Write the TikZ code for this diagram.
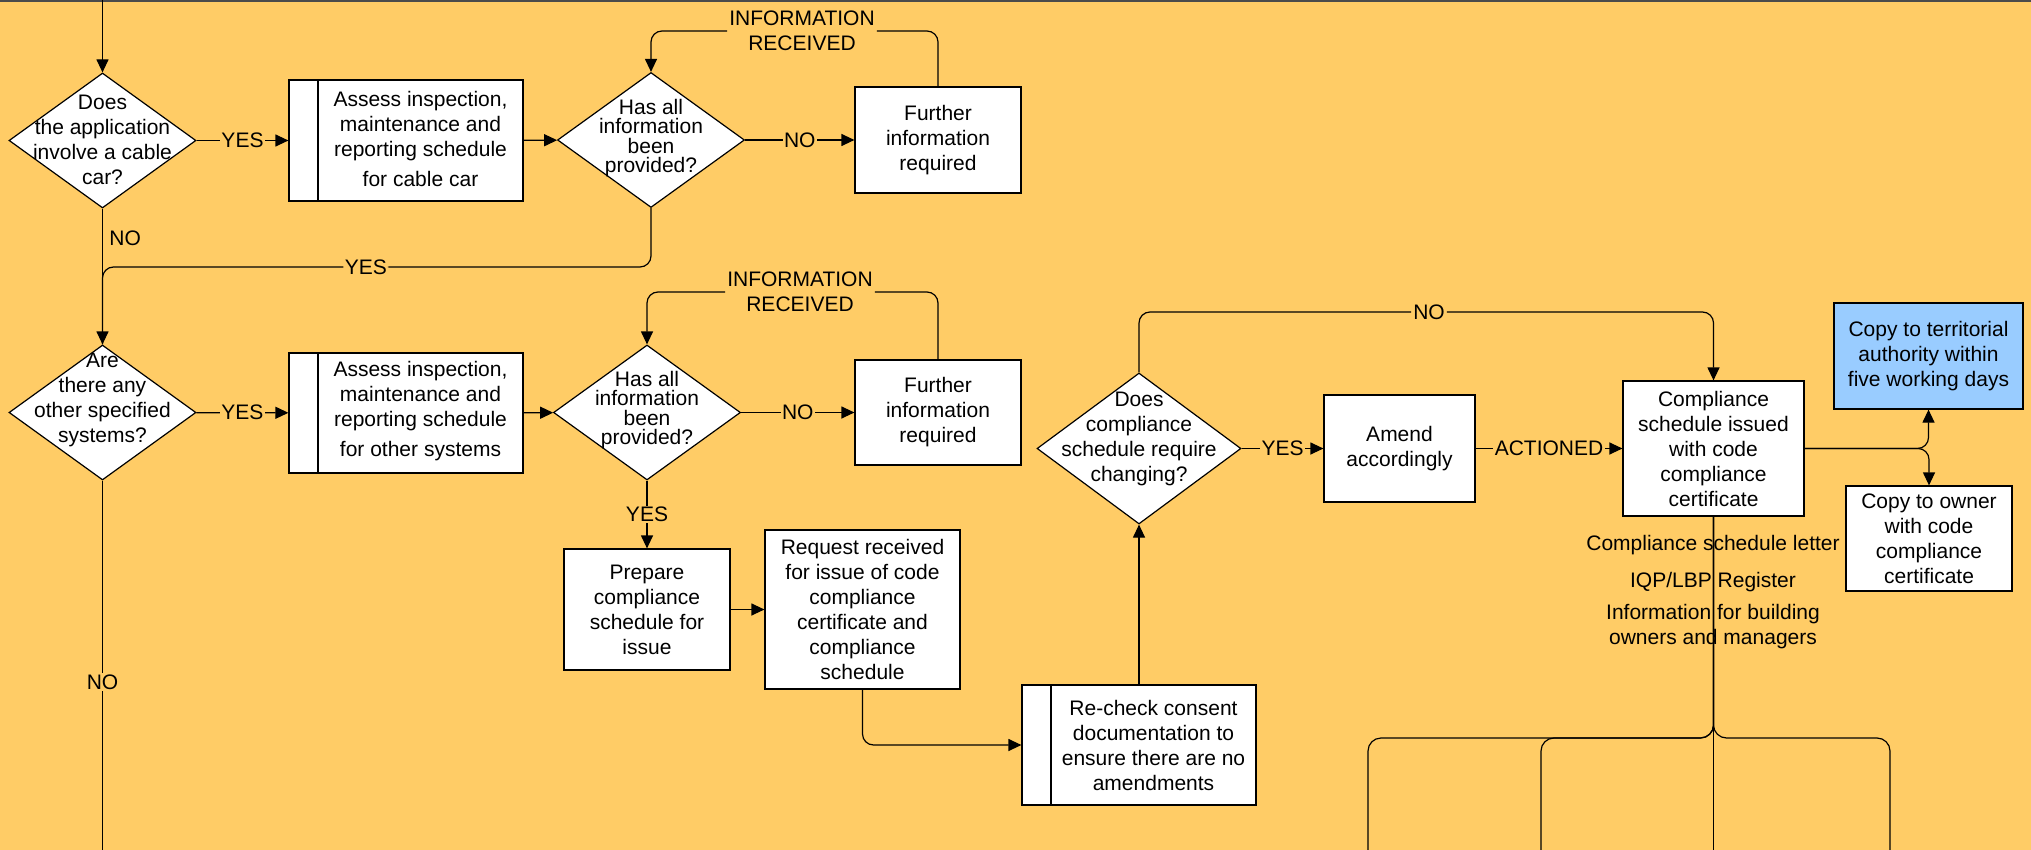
\documentclass[tikz,border=0pt]{standalone}
\usepackage{fontspec}
\setmainfont{Liberation Sans}
\usepackage{tikz}
\usetikzlibrary{shapes.geometric,arrows.meta,positioning}
\definecolor{bgorange}{RGB}{255,204,102}
\definecolor{copyblue}{RGB}{153,204,255}
\definecolor{rimgray}{RGB}{75,75,75}

\begin{document}
\begin{tikzpicture}[x=1pt,y=-1pt,line width=1.2pt,
    every node/.style={font=\fontsize{21}{25}\selectfont, align=center},
    proc/.style={draw, fill=white, inner sep=0pt},
    subproc/.style={proc, path picture={\draw ([xshift=29pt]path picture bounding box.north west) -- ([xshift=29pt]path picture bounding box.south west);}},
    dec/.style={diamond, draw, fill=white, inner sep=0pt, minimum width=187pt, minimum height=135pt},
    tight/.style={font=\fontsize{21}{19.5}\selectfont},
    lbl/.style={fill=bgorange, inner sep=1.5pt},
    arr/.style={-{Triangle[length=13pt,width=12pt]}},
    rc/.style={rounded corners=11pt}]
            \useasboundingbox (0,0) rectangle (2031,850);
            \fill[bgorange] (0,0) rectangle (2031,850);
            \draw[rimgray, line width=2.5pt] (0,1.25) -- (2031,1.25);

            \coordinate (start) at (102.5,0);
            \coordinate (hy) at (0,267);
            \coordinate (hb) at (0,738);
            \coordinate (e1) at (102.5,850);
            \coordinate (o1) at (1368,850);
            \coordinate (o2) at (1541,850);
            \coordinate (o3) at (1713.5,850);
            \coordinate (o4) at (1890,850);

            \node[dec] (d1) at (102.5,140.5) {};
            \node at (102.5,140) {Does\\the application\\involve a cable\\car?};
            \node[subproc, minimum width=234pt, minimum height=121pt] (b1) at (406,140.5) {};
            \node at (420.5,139) {Assess inspection,\\maintenance and\\reporting schedule\\[5pt]for cable car};
            \node[dec] (d2) at (651,140) {};
            \node[tight] at (651,138) {Has all\\information\\been\\provided?};
            \node[proc, minimum width=166pt, minimum height=106pt] (f1) at (938,140) {Further\\information\\required};
            \node[lbl] (ir1) at (802,31) {INFORMATION\\RECEIVED};

            \node[dec] (d3) at (102.5,412.5) {};
            \node at (102.5,400) {Are\\there any\\other specified\\systems?};
            \node[subproc, minimum width=234pt, minimum height=120pt] (b2) at (406,413) {};
            \node at (420.5,411) {Assess inspection,\\maintenance and\\reporting schedule\\[5pt]for other systems};
            \node[dec] (d4) at (647,412.5) {};
            \node[tight] at (647,410) {Has all\\information\\been\\provided?};
            \node[proc, minimum width=166pt, minimum height=105pt] (f2) at (938,412.5) {Further\\information\\required};
            \node[lbl] (ir2) at (800,292) {INFORMATION\\RECEIVED};

            \node[proc, minimum width=166pt, minimum height=121pt] (prep) at (647,609.5) {Prepare\\compliance\\schedule for\\issue};
            \node[proc, minimum width=195pt, minimum height=159pt] (req) at (862.5,609.5) {Request received\\for issue of code\\compliance\\certificate and\\compliance\\schedule};
            \node[subproc, minimum width=234pt, minimum height=120pt] (rechk) at (1139,745) {};
            \node at (1153.5,745) {Re-check consent\\documentation to\\ensure there are no\\amendments};

            \node[dec, minimum width=204pt, minimum height=151pt] (d5) at (1139,448.5) {};
            \node at (1139,439) {Does\\compliance\\schedule require\\changing?};
            \node[proc, minimum width=151pt, minimum height=107pt] (amend) at (1399.5,448.5) {Amend\\accordingly};
            \node[proc, minimum width=181pt, minimum height=135pt] (comp) at (1713.5,448.5) {Compliance\\schedule issued\\with code\\compliance\\certificate};
            \node[proc, fill=copyblue, minimum width=189pt, minimum height=106pt] (terr) at (1928.5,356) {Copy to territorial\\authority within\\five working days};
            \node[proc, minimum width=166pt, minimum height=105pt] (owner) at (1929,538.5) {Copy to owner\\with code\\compliance\\certificate};
            \node[lbl] (no5) at (1429,312) {NO};

            \draw[arr] (start) -- (d1.north);
            \draw[arr] (d1) -- node[lbl] {YES} (b1);
            \draw[arr] (b1) -- (d2);
            \draw[arr] (d2) -- node[lbl] {NO} (f1);
            \draw[rc] (f1.north) |- (ir1.east);
            \draw[arr, rc] (ir1.west) -| (d2.north);
            \draw[arr] (d1.south) -- node[pos=0.22, right=3pt] {NO} (d3.north);
            \draw[rc] (d2.south) |- node[lbl, pos=0.76] {YES} (d1.south |- hy) -- (d3.north);

            \draw[arr] (d3) -- node[lbl] {YES} (b2);
            \draw[arr] (b2) -- (d4);
            \draw[arr] (d4) -- node[lbl] {NO} (f2);
            \draw[rc] (f2.north) |- (ir2.east);
            \draw[arr, rc] (ir2.west) -| (d4.north);
            \draw (d3.south) -- node[lbl, pos=0.546] {NO} (e1);
            \draw[arr] (d4.south) -- node[lbl] {YES} (prep.north);
            \draw[arr] (prep) -- (req);
            \draw[arr, rc] (req.south) |- (rechk.west);
            \draw[arr] (rechk.north) -- (d5.south);

            \draw[arr] (d5) -- node[lbl] {YES} (amend);
            \draw[arr] (amend) -- node[lbl] {ACTIONED} (comp);
            \draw[rc] (d5.north) |- (no5.west);
            \draw[arr, rc] (no5.east) -| (comp.north);
            \draw[arr, rc] (comp.east) -| (terr.south);
            \draw[arr, rc] (comp.east) -| (owner.north);

            \draw[rounded corners=13pt] (comp.south) |- (o1 |- hb) -- (o1);
            \draw[rounded corners=13pt] (comp.south) |- (o2 |- hb) -- (o2);
            \draw[rounded corners=13pt] (comp.south) |- (o4 |- hb) -- (o4);
            \draw (comp.south) -- (o3);
            \node (csl) at (1713,545) {Compliance schedule letter};
            \node (reg) at (1713,582) {IQP/LBP Register};
            \node (info) at (1713,627) {Information for building\\owners and managers};
        \end{tikzpicture}
\end{document}
